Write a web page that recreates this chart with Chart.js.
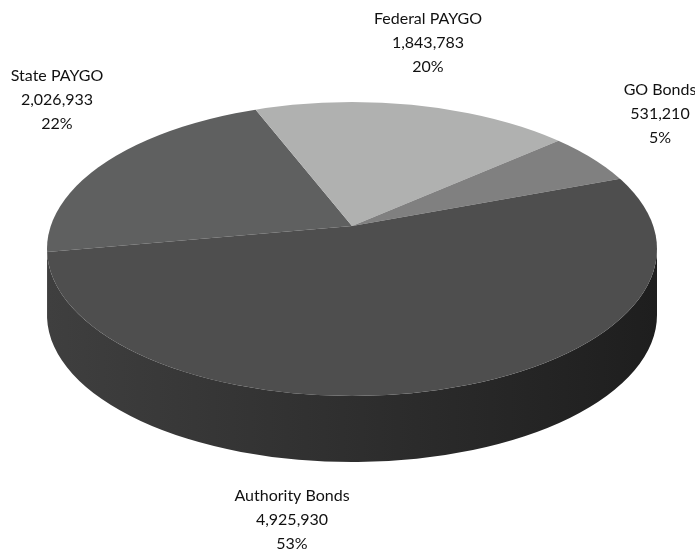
<!DOCTYPE html>
<html>
<head>
<meta charset="utf-8">
<script src="https://cdn.jsdelivr.net/npm/chart.js@4/dist/chart.umd.min.js"></script>
<style>
  html, body { margin: 0; padding: 0; background: #ffffff; }
  #wrap { width: 695px; height: 559px; }
</style>
</head>
<body>
<div id="wrap"><canvas id="c" width="695" height="559"></canvas></div>
<script>
// Funding sources (values in dollars)
const categories = ['State PAYGO', 'Federal PAYGO', 'GO Bonds', 'Authority Bonds'];
const amounts = [2026933, 1843783, 531210, 4925930];
const shareLabels = ['22%', '20%', '5%', '53%'];

// Slice styling
const topColors = ['#5f6060', '#b0b1b0', '#808080', '#4e4e4e'];
const sideColors = [
  ['#4a4b4b', '#3c3c3c'],
  ['#8d8e8d', '#6f706f'],
  ['#666666', '#4f4f4f'],
  ['#3f3f3f', '#1e1e1e']
];

// Tilted-disc geometry: rim ellipse, its thickness, and the pie apex
// (seen in perspective, the apex sits above the rim's centre)
const view = { cx: 352, cy: 249, rx: 305, ry: 147, depth: 66, apexY: 226 };
const labelAnchors = [[57, 100], [428, 43], [660, 114], [292, 520]];
const labelFont = '16px Lato, "Open Sans", sans-serif';
const lineGap = 24;
const REACH = 1.25; // pie radius in rim units, so every slice reaches the rim

// where a slice edge (angle from the apex) meets the rim, as an ellipse angle
function rimAngle(theta) {
  const d = (view.cy - view.apexY) / view.ry;
  const s = Math.sin(theta), c = Math.cos(theta);
  const t = d * s + Math.sqrt(d * d * s * s - d * d + 1);
  let phi = Math.atan2(t * s - d, t * c);
  while (phi - theta > Math.PI) phi -= 2 * Math.PI;
  while (theta - phi > Math.PI) phi += 2 * Math.PI;
  return phi;
}

function frontIntervals(s, e) {
  const out = [];
  for (let k = -2; k <= 2; k++) {
    const lo = Math.max(s, 2 * Math.PI * k);
    const hi = Math.min(e, 2 * Math.PI * k + Math.PI);
    if (hi > lo) out.push([lo, hi]);
  }
  return out;
}

const tiltPlugin = {
  id: 'tilt',
  beforeDatasetsDraw(chart) {
    const ctx = chart.ctx;
    const arcs = chart.getDatasetMeta(0).data;
    const { cx, cy, rx, ry, depth, apexY } = view;

    // outer wall of the disc, one piece per slice facing the viewer
    arcs.forEach((arc, i) => {
      const p = arc.getProps(['startAngle', 'endAngle']);
      const a0 = rimAngle(p.startAngle), b0 = rimAngle(p.endAngle);
      frontIntervals(a0, b0).forEach(([a, b]) => {
        const g = ctx.createLinearGradient(cx - rx, 0, cx + rx, 0);
        g.addColorStop(0, sideColors[i][0]);
        g.addColorStop(1, sideColors[i][1]);
        ctx.beginPath();
        ctx.ellipse(cx, cy, rx, ry, 0, a, b, false);
        ctx.ellipse(cx, cy + depth, rx, ry, 0, b, a, true);
        ctx.closePath();
        ctx.fillStyle = g;
        ctx.fill();
      });
    });

    // top face: the library's pie, squashed around the apex and cut to the rim
    const c0 = arcs[0].getProps(['x', 'y', 'outerRadius']);
    ctx.save();
    ctx.beginPath();
    ctx.ellipse(cx, cy, rx, ry, 0, 0, Math.PI * 2);
    ctx.clip();
    ctx.translate(cx, apexY);
    ctx.scale(rx * REACH / c0.outerRadius, ry * REACH / c0.outerRadius);
    ctx.translate(-c0.x, -c0.y);
  },
  afterDatasetsDraw(chart) {
    const ctx = chart.ctx;
    ctx.restore();
    ctx.save();
    ctx.font = labelFont;
    ctx.fillStyle = '#111111';
    ctx.textAlign = 'center';
    ctx.textBaseline = 'middle';
    categories.forEach((name, i) => {
      const [x, y] = labelAnchors[i];
      const lines = [name, amounts[i].toLocaleString('en-US'), shareLabels[i]];
      lines.forEach((t, j) => ctx.fillText(t, x, y + (j - 1) * lineGap));
    });
    ctx.restore();
  }
};

new Chart(document.getElementById('c'), {
  type: 'pie',
  data: {
    labels: categories,
    datasets: [{
      data: amounts,
      backgroundColor: topColors,
      borderWidth: 0,
      hoverOffset: 0
    }]
  },
  options: {
    responsive: false,
    animation: false,
    events: [],
    rotation: -100,
    plugins: { legend: { display: false }, tooltip: { enabled: false } }
  },
  plugins: [tiltPlugin]
});
</script>
</body>
</html>
